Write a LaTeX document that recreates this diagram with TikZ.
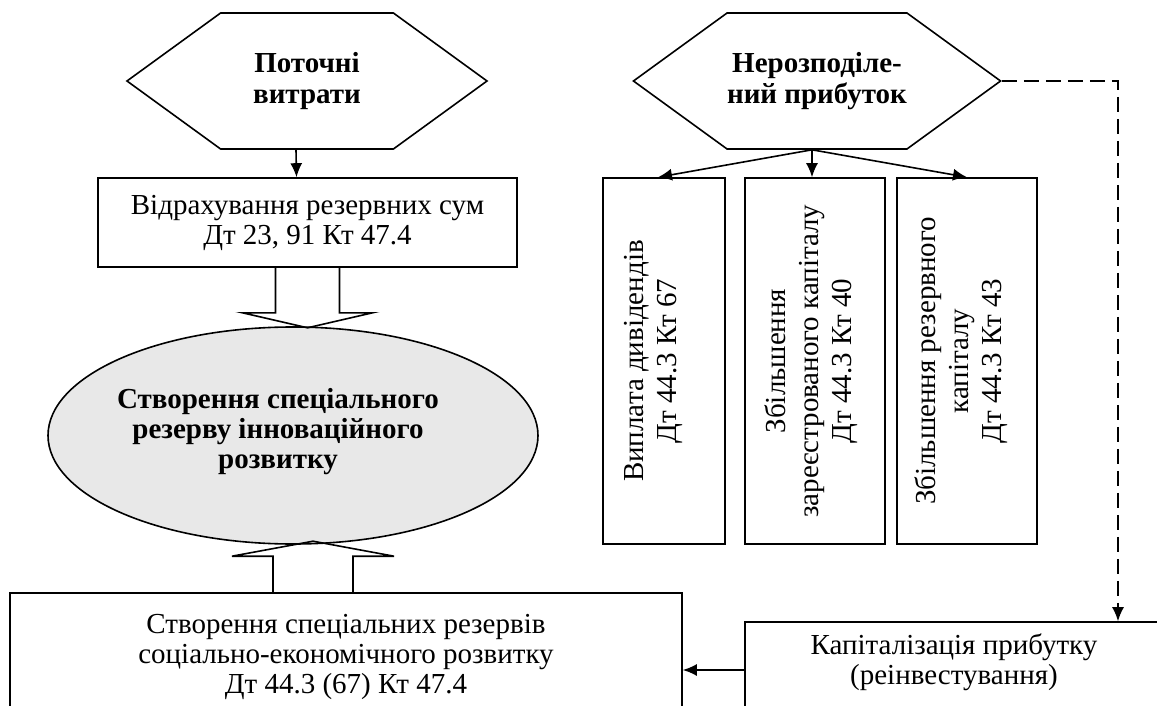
\documentclass[tikz,border=0pt]{standalone}
\usepackage{fontspec}
\setmainfont{Liberation Serif}
\usetikzlibrary{shapes.symbols,shapes.geometric,arrows.meta,calc}

\tikzset{
  every node/.style={font=\fontsize{29}{30}\selectfont},
  hexa/.style={draw, shape=signal, signal from=nowhere, signal to=east and west,
    signal pointer angle=72, minimum width=360pt, minimum height=136pt,
    inner sep=0pt, align=center, font=\fontsize{29}{31}\selectfont\bfseries},
  box/.style={draw, rectangle, inner sep=0pt, align=center},
  vbox/.style={box, minimum height=366pt},
  vtext/.style={rotate=90, align=center, font=\fontsize{29}{33}\selectfont},
  arr/.style={-{Latex[length=14pt,width=12pt]}},
  dasharr/.style={arr, dash pattern=on 15pt off 7pt},
  hollow/.style={line join=miter},
}

\begin{document}
\begin{tikzpicture}[x=1pt,y=-1pt,line width=1.6pt]
  \clip (0,0) rectangle (1157,706);

  % left column
  \node[hexa] (potochni) at (307,81) {Поточні\\витрати};
  \node[box, minimum width=419pt, minimum height=89pt] (vidr) at (307.5,222.5)
    {Відрахування резервних сум\\Дт 23, 91 Кт 47.4};
  \node[draw, ellipse, fill=black!9, minimum width=490pt, minimum height=217pt] (stvor) at (293,435.5) {};
  \node[align=center, font=\fontsize{29}{30}\selectfont\bfseries] (stvortext) at (278,432)
    {Створення спеціального\\резерву інноваційного\\розвитку};
  \node[box, minimum width=672pt, minimum height=128pt] (spec) at (346,657)
    {Створення спеціальних резервів\\соціально-економічного розвитку\\Дт 44.3 (67) Кт 47.4};

  % right column
  \node[hexa] (nerozp) at (817,81) {Нерозподіле-\\ний прибуток};
  \node[vbox, minimum width=122pt] (vyplata) at (664,361) {};
  \node[vbox, minimum width=140pt] (zbilzar) at (815,361) {};
  \node[vbox, minimum width=140pt] (zbilrez) at (967,361) {};
  \node[vtext] (vyplatatext) at ($(vyplata.center)+(-11,0)$) {Виплата дивідендів\\Дт 44.3 Кт 67};
  \node[vtext] (zbilzartext) at ($(zbilzar.center)+(-4,0)$) {Збільшення\\зареєстрованого капіталу\\Дт 44.3 Кт 40};
  \node[vtext] (zbilreztext) at ($(zbilrez.center)+(-6,0)$) {Збільшення резервного\\капіталу\\Дт 44.3 Кт 43};
  \node[box, minimum width=420pt, minimum height=140pt] (kapit) at (955,692) {};
  \node[align=center] (kapittext) at (954,662) {Капіталізація прибутку\\(реінвестування)};
  \coordinate (turn) at (1118,81);

  \draw[arr] ([xshift=-11pt]potochni.south) -- ([xshift=-11pt]vidr.north);
  \draw[arr] ([xshift=-5pt]nerozp.south) -- ([xshift=-6pt]vyplata.north);
  \draw[arr] ([xshift=-5pt]nerozp.south) -- ([xshift=-3pt]zbilzar.north);
  \draw[arr] ([xshift=-5pt]nerozp.south) -- (zbilrez.north);
  \draw[dasharr] (nerozp.east) -- (turn) -- (turn |- kapit.north);
  \draw[arr] ([yshift=22pt]kapit.west) -- ([yshift=22pt]kapit.west -| spec.east);

  % hollow arrows
  \draw[hollow] ($(vidr.south)+(-32,0)$) -- ++(0,45) -- ++(-33,0) -- ($(vidr.south)+(0,60)$)
    -- ++(65,-15) -- ++(-33,0) -- ++(0,-45);
  \draw[hollow] ($(spec.north)+(-73,0)$) -- ++(0,-36) -- ++(-41,0) -- ($(spec.north)+(-33,-51)$)
    -- ++(81,15) -- ++(-41,0) -- ++(0,36);
\end{tikzpicture}
\end{document}
